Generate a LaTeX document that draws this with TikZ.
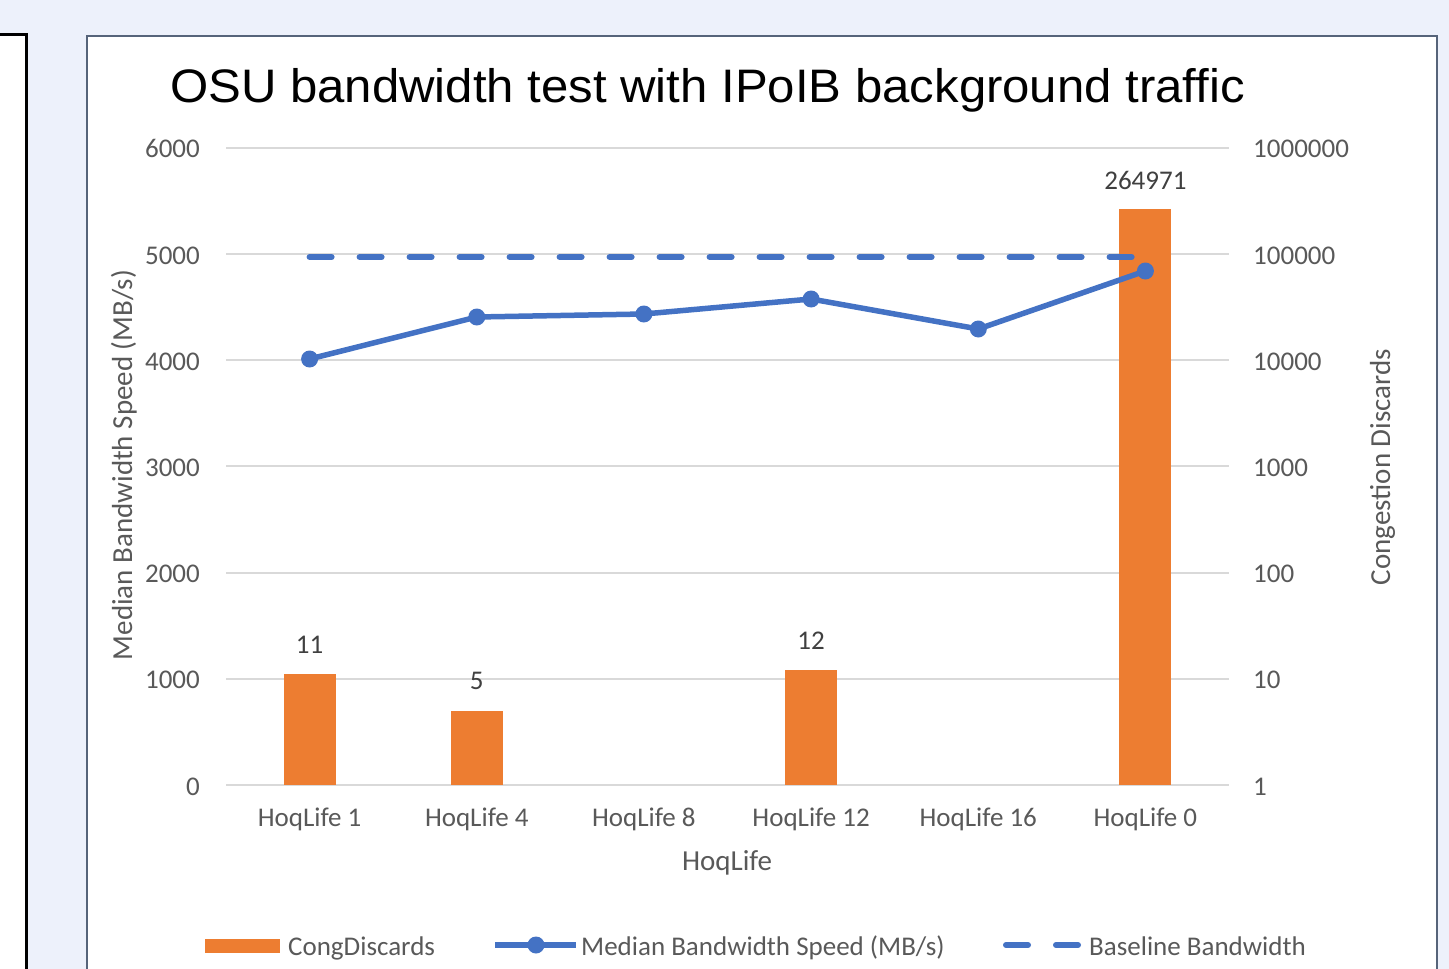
\documentclass[tikz,border=0pt]{standalone}
\usepackage{fontspec}
\setmainfont{Carlito}
\newfontfamily\titlefont{Liberation Sans}
\definecolor{bgblue}{HTML}{EDF1FB}
\definecolor{frameblue}{HTML}{56647A}
\definecolor{xlorange}{HTML}{ED7D31}
\definecolor{xlblue}{HTML}{4472C4}
\definecolor{gridgray}{HTML}{D9D9D9}
\definecolor{txtgray}{HTML}{595959}
\definecolor{lblgray}{HTML}{404040}
\begin{document}
\begin{tikzpicture}[x=1pt,y=-1pt,
  grid/.style={draw=gridgray,line width=2pt},
  ticklbl/.style={text=txtgray,font=\fontsize{27}{32}\selectfont,inner sep=0pt},
  axtitle/.style={text=txtgray,font=\fontsize{29}{34}\selectfont,inner sep=0pt},
  datalbl/.style={text=lblgray,font=\fontsize{27}{32}\selectfont,inner sep=0pt,anchor=base},
  barbox/.style={fill=xlorange,draw=none},
  series/.style={draw=xlblue,line width=5.5pt,line join=round},
  marker/.style={circle,fill=xlblue,draw=none,minimum size=17pt,inner sep=0pt},
  baseline/.style={draw=xlblue,line width=6pt,line cap=round,dash pattern=on 22pt off 28pt},
  legtxt/.style={text=txtgray,font=\fontsize{27}{32}\selectfont,inner sep=0pt,anchor=base west}]
\useasboundingbox (0,0) rectangle (1449,969);
\fill[bgblue] (0,0) rectangle (1449,969);
% left white panel
\draw[fill=white,line width=3pt] (-20,34) rectangle (26.5,1000);
% chart frame
\draw[fill=white,draw=frameblue,line width=2pt] (86.5,35.5) rectangle (1437,1000);
% title
\node[font=\titlefont\fontsize{47}{56}\selectfont,anchor=base,inner sep=0pt,xscale=1.045] (title) at (707.5,102) {OSU bandwidth test with IPoIB background traffic};
% gridlines and tick labels
\foreach \i/\l/\r in {0/0/1,1/1000/10,2/2000/100,3/3000/1000,4/4000/10000,5/5000/100000,6/6000/1000000}{
  \pgfmathsetmacro{\yy}{785-\i*106.17}
  \draw[grid] (226,\yy) -- (1229,\yy);
  \node[ticklbl,anchor=base east] (L\i) at (200,\yy+10) {\l};
  \node[ticklbl,anchor=base west] (R\i) at (1253,\yy+10) {\r};
}
% bars (log scale right axis)
\fill[barbox] (283.6,674.4) rectangle (335.6,785);
\fill[barbox] (450.8,710.8) rectangle (502.8,785);
\fill[barbox] (785.1,670.4) rectangle (837.1,785);
\fill[barbox] (1119.4,209.2) rectangle (1171.4,785);
% data labels
\node[datalbl] (d1) at (309.6,653) {11};
\node[datalbl] (d2) at (476.8,689) {5};
\node[datalbl] (d4) at (811.1,649) {12};
\node[datalbl] (d6) at (1145.4,189) {264971};
% baseline bandwidth
\coordinate (b1) at (309.6,257);
\coordinate (b6) at (1145.4,257);
\draw[baseline] (b1) -- (b6);
% median bandwidth series
\coordinate (p1) at (309.6,359);
\coordinate (p2) at (476.8,317);
\coordinate (p3) at (643.9,314);
\coordinate (p4) at (811.1,299);
\coordinate (p5) at (978.3,329);
\coordinate (p6) at (1145.4,271);
\draw[series] (p1) -- (p2) -- (p3) -- (p4) -- (p5) -- (p6);
\foreach \p in {p1,p2,p3,p4,p5,p6}{\node[marker] (m\p) at (\p) {};}
% category labels
\foreach \x/\t [count=\k] in {309.6/HoqLife 1,476.8/HoqLife 4,643.9/HoqLife 8,811.1/HoqLife 12,978.3/HoqLife 16,1145.4/HoqLife 0}{
  \node[ticklbl,anchor=base] (c\k) at (\x,826) {\t};
}
% axis titles
\node[axtitle,anchor=base] (xtitle) at (727,870) {HoqLife};
\node[axtitle,anchor=base,rotate=90] (ytitle) at (132,465) {Median Bandwidth Speed (MB/s)};
\node[axtitle,anchor=base,rotate=90] (y2title) at (1390,467) {Congestion Discards};
% legend
\fill[barbox] (205,939) rectangle (280,953);
\node[legtxt] (lg1) at (288,955) {CongDiscards};
\coordinate (la) at (495,945);
\coordinate (lb) at (576,945);
\draw[series] (la) -- (lb);
\node[marker] (lm) at (536,945) {};
\node[legtxt] (lg2) at (581,955) {Median Bandwidth Speed (MB/s)};
\coordinate (lc) at (1006,945);
\coordinate (ld) at (1084,945);
\draw[baseline] (lc) -- (ld);
\node[legtxt] (lg3) at (1089,955) {Baseline Bandwidth};
\end{tikzpicture}
\end{document}
